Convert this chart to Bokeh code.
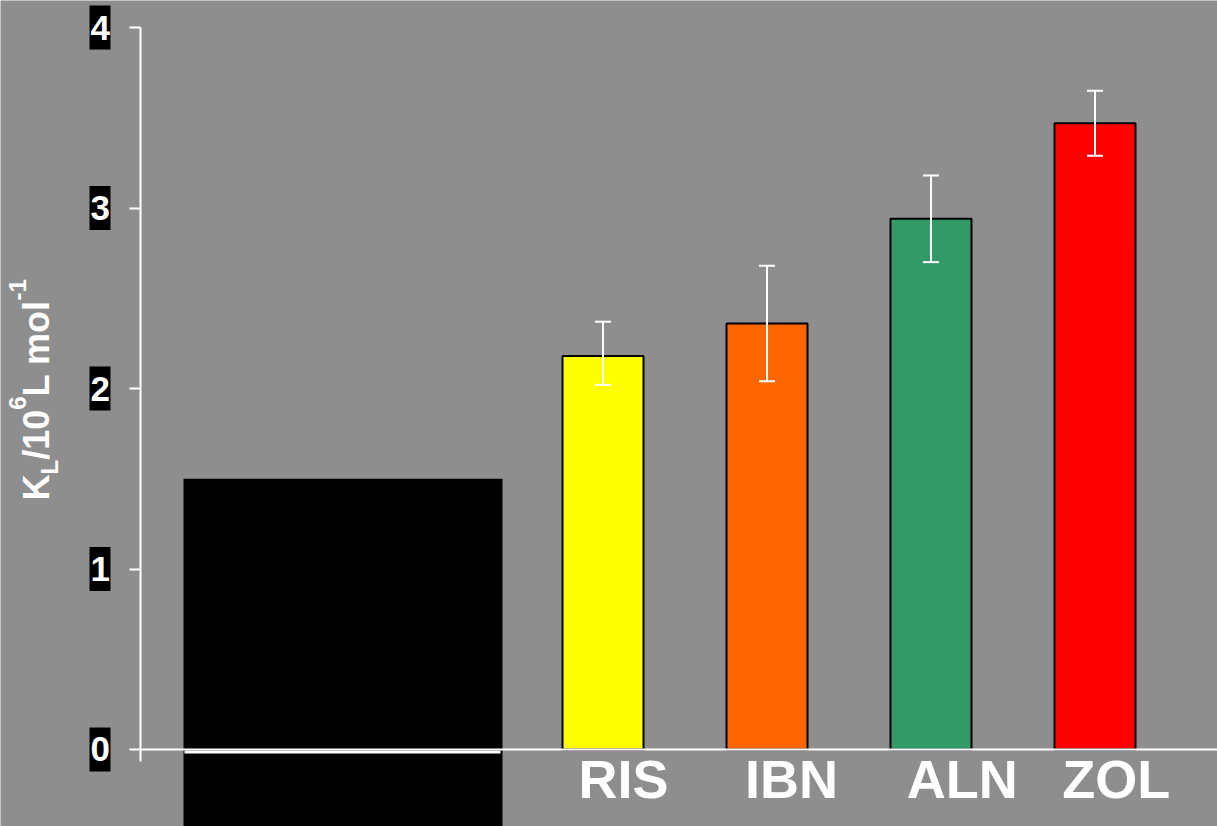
import math
from bokeh.plotting import figure
from bokeh.models import Range1d, LinearAxis, FixedTicker, Whisker, ColumnDataSource, TeeHead
from bokeh.embed import file_html
from bokeh.resources import INLINE
from bokeh.core.properties import value

# ---------------- data ----------------
categories = ["RIS", "IBN", "ALN", "ZOL"]
kl_values = [2.18, 2.36, 2.94, 3.47]
kl_upper = [2.37, 2.68, 3.18, 3.65]
kl_lower = [2.02, 2.04, 2.70, 3.29]
bar_colors = ["#ffff00", "#ff6600", "#339966", "#ff0000"]
y_ticks = [0, 1, 2, 3, 4]
masked_panel_top = 1.5          # top of the black masking panel (K_L units)

# ---------------- layout ----------------
W, H = 1217, 826
BG = "#8e8e8e"
FONT = "Liberation Sans"
X0, X1 = -2.674, 4.747
Y0, Y1 = -0.4266, 4.1496


def px2x(px):
    return X0 + px / W * (X1 - X0)


def py2y(py):
    return Y1 - py / H * (Y1 - Y0)


bar_x = [1, 2, 3, 4]
label_x = [1.125, 2.15, 3.19, 4.13]
axis_x = px2x(139.5)

p = figure(width=W, height=H, x_range=Range1d(X0, X1), y_range=Range1d(Y0, Y1),
           output_backend="svg", toolbar_location=None, min_border=0,
           x_axis_location=None, y_axis_location=None,
           background_fill_color=BG, border_fill_color=BG, outline_line_color=None)
p.xgrid.visible = False
p.ygrid.visible = False

# black masking panel
p.quad(left=[px2x(183)], right=[px2x(502)], bottom=[Y0 - 1], top=[masked_panel_top],
       fill_color="black", line_color=None)
p.segment(x0=[px2x(184)], x1=[px2x(500)], y0=[py2y(751.5)], y1=[py2y(751.5)],
          line_color="white", line_width=3)

# bars
src = ColumnDataSource(dict(x=bar_x, top=kl_values, upper=kl_upper, lower=kl_lower,
                            color=bar_colors, name=categories))
p.vbar(x="x", top="top", bottom=0, width=0.494, fill_color="color", line_color="black",
       line_width=2, source=src)

w = Whisker(source=src, base="x", upper="upper", lower="lower", line_color="white",
            line_width=2, level="overlay")
w.upper_head = TeeHead(size=16, line_color="white", line_width=2)
w.lower_head = TeeHead(size=16, line_color="white", line_width=2)
p.add_layout(w)

# tick label boxes
p.rect(x=[px2x(99.5)] * len(y_ticks), y=y_ticks, width=21, height=44,
       width_units="screen", height_units="screen", fill_color="black", line_color=None)

# y axis
yaxis = LinearAxis(fixed_location=axis_x, ticker=FixedTicker(ticks=y_ticks),
                   bounds=(py2y(761), 4),
                   axis_line_color="white", axis_line_width=2,
                   major_tick_line_color="white", major_tick_line_width=2,
                   major_tick_out=11, major_tick_in=0,
                   minor_tick_line_color=None,
                   major_label_text_color="white", major_label_text_font=FONT,
                   major_label_text_font_size="35px", major_label_text_font_style="bold",
                   major_label_standoff=19)
p.add_layout(yaxis, "left")

# x axis line
xaxis = LinearAxis(fixed_location=0, ticker=FixedTicker(ticks=[]), bounds=(axis_x, X1),
                   axis_line_color="white", axis_line_width=2,
                   major_tick_line_color=None, minor_tick_line_color=None,
                   major_label_text_font_size="0px")
p.add_layout(xaxis, "below")

# category labels
p.text(x=label_x, y=[py2y(778)] * 4, text=categories, text_color="white",
       text_font=value(FONT), text_font_size="54px", text_font_style="bold",
       text_align="center", text_baseline="alphabetic")

# y axis title, built from pieces (subscript / superscripts)
main_fs, small_fs = 36, 24
pieces = [("K", main_fs, 0.722, 36), ("L", small_fs, 0.611, 49),
          ("/10", main_fs, 1.39, 36), ("6", small_fs, 0.556, 17),
          ("L mol", main_fs, 2.667, 36), ("-1", small_fs, 0.889, 17)]
ypos = 500.0
for txt, fs, em, base_px in pieces:
    p.text(x=[px2x(base_px)], y=[py2y(ypos)], text=[txt], angle=math.pi / 2,
           text_color="white", text_font=value(FONT), text_font_size=f"{fs}px",
           text_font_style="bold", text_align="left", text_baseline="alphabetic")
    ypos -= em * fs

open("out.html", "w").write(file_html(p, INLINE))
